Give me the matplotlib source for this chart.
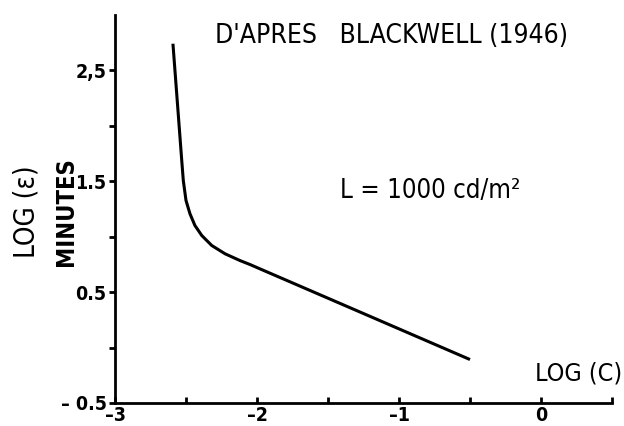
import matplotlib.pyplot as plt
from matplotlib.ticker import FixedLocator

# Blackwell (1946) contrast threshold curve, L = 1000 cd/m2
log_c = [-2.592, -2.530, -2.519, -2.500, -2.472, -2.437, -2.389,
         -2.319, -2.225, -2.120, -2.049, -1.979, -1.25, -0.50]
log_eps = [2.741, 1.688, 1.507, 1.327, 1.207, 1.101, 1.011,
           0.921, 0.846, 0.785, 0.749, 0.710, 0.307, -0.108]

y_major = [2.5, 1.5, 0.5, -0.5]
y_labels = ['2,5', '1.5', '0.5', '– 0.5']
y_minor = [2.0, 1.0, 0.0]
x_major = [-3, -2, -1, 0]
x_labels = ['–3', '–2', '–1', '0']
x_minor = [-2.5, -1.5, -0.5, 0.5]

plt.rcParams['font.family'] = ['DejaVu Sans']
plt.rcParams['font.stretch'] = 'condensed'

W, H = 624, 426
fig = plt.figure(figsize=(W / 100, H / 100), dpi=100)
ax = fig.add_axes([115 / W, 1 - 403 / H, (612 - 115) / W, (403 - 15) / H])

ax.plot(log_c, log_eps, color='black', lw=2.2, solid_capstyle='butt',
        solid_joinstyle='round')

ax.set_xlim(-3, 0.5)
ax.set_ylim(-0.5, 3.0)
for s in ['top', 'right']:
    ax.spines[s].set_visible(False)
for s in ['left', 'bottom']:
    ax.spines[s].set_linewidth(2)

ax.yaxis.set_major_locator(FixedLocator(y_major))
ax.yaxis.set_minor_locator(FixedLocator(y_minor))
ax.set_yticklabels(y_labels)
ax.xaxis.set_major_locator(FixedLocator(x_major))
ax.xaxis.set_minor_locator(FixedLocator(x_minor))
ax.set_xticklabels(x_labels)

ax.tick_params(axis='y', which='both', direction='out', length=4, width=2,
               pad=2, labelsize=14)
ax.tick_params(axis='x', which='both', direction='in', length=4, width=2,
               pad=2, labelsize=14)
for lab in ax.get_xticklabels() + ax.get_yticklabels():
    lab.set_fontweight('bold')
    lab.set_fontstretch('condensed')

fig.text(215 / W, 1 - 36 / H, "D'APRES   BLACKWELL (1946)", fontsize=19,
         va='center', ha='left', fontstretch='condensed')
fig.text(340 / W, 1 - 191 / H, 'L = 1000 cd/m²', fontsize=18.5,
         va='center', ha='left', fontstretch='condensed')
fig.text(535 / W, 1 - 373 / H, 'LOG (C)', fontsize=18,
         va='center', ha='left', fontstretch='condensed')
fig.text(27 / W, 1 - 212 / H, 'LOG (ε)', fontsize=20, rotation=90,
         va='center', ha='center', fontstretch='condensed')
fig.text(66 / W, 1 - 212 / H, 'MINUTES', fontsize=17, rotation=90,
         va='center', ha='center', fontweight='bold',
         fontstretch='condensed')

fig.savefig('out.png', dpi=100)
